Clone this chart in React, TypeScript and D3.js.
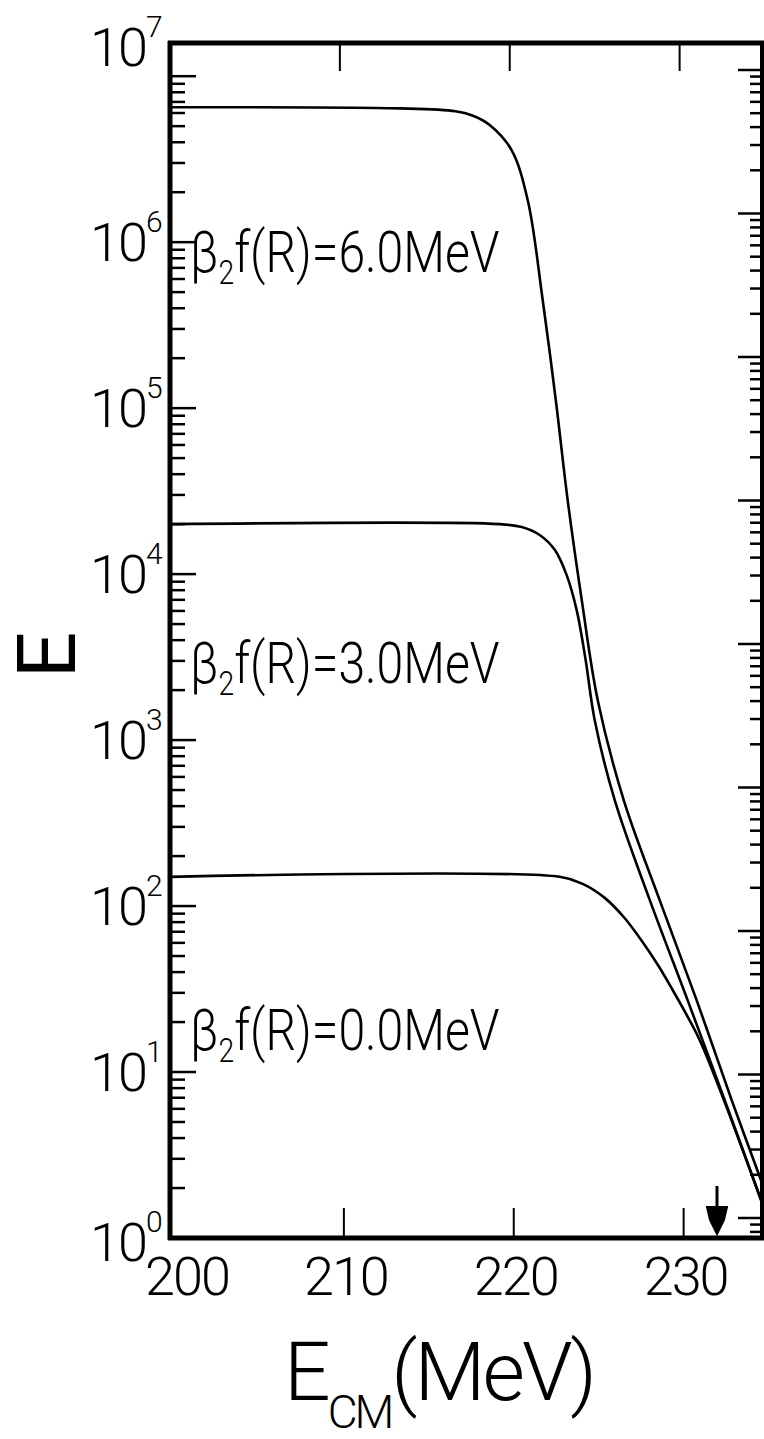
import React from "react";
import * as d3 from "d3";

// ---- data ----
const xTickValues = [200, 210, 220, 230];
const yDecades = [0, 1, 2, 3, 4, 5, 6, 7];

const curve6E = [200, 213.5, 216.8, 217.8, 218.8, 220.1, 221.06, 221.94, 222.71, 223.41, 224.24, 225.18, 226.71, 228.82, 231.0, 233.06, 234.94];
const curve6V = [6.5e6, 6.4e6, 6.15e6, 5.8e6, 5.1e6, 3.6e6, 1.79e6, 4.48e5, 1.12e5, 2.79e4, 6.97e3, 1.74e3, 435, 109, 27.1, 6.8, 2.03];

const curve3E = [200, 219.4, 220.71, 221.76, 222.65, 223.35, 223.94, 224.47, 225.0, 226.18, 228.24, 230.47, 232.65, 234.94];
const curve3V = [2.0e4, 2.0e4, 1.92e4, 1.72e4, 1.4e4, 9.86e3, 6.07e3, 3.03e3, 1.32e3, 435, 109, 27.1, 6.78, 1.54];

const curve0E = [200, 222.94, 224.29, 225.59, 226.76, 227.82, 228.76, 229.59, 230.35, 231.18, 232.65, 234.94];
const curve0V = [150, 150, 136, 112, 84.7, 60.7, 43.5, 31.2, 22.7, 15.6, 6.6, 1.54];

const curveLabels = ["6.0", "3.0", "0.0"];
const labelValues = [6.6e5, 2.2e3, 13.5];
const arrowE = 232.2;

// ---- layout ----
const W = 764, H = 1439;
const left = 170, right = 762, top = 43, bottom = 1238;

export default function App() {
  const x = d3.scaleLinear().domain([200, 234.85]).range([left, right]);
  const y = d3.scaleLog().domain([1, Math.pow(10, 7.2)]).range([bottom, top]);
  const yR = d3.scaleLog().domain([1, 1e8]).range([1218, 70]);

  const line = d3
    .line<[number, number]>()
    .x((d) => x(d[0]))
    .y((d) => y(d[1]))
    .curve(d3.curveCatmullRom.alpha(0.5));

  const curves = [
    d3.zip(curve6E, curve6V) as [number, number][],
    d3.zip(curve3E, curve3V) as [number, number][],
    d3.zip(curve0E, curve0V) as [number, number][],
  ];

  const leftTicks: { v: number; major: boolean }[] = [];
  for (let k = 0; k <= 7; k++) {
    for (let m = 1; m <= 9; m++) {
      const v = m * Math.pow(10, k);
      if (v <= Math.pow(10, 7.2)) leftTicks.push({ v, major: m === 1 });
    }
  }
  const rightTicks: { v: number; major: boolean }[] = [];
  for (let k = -1; k <= 8; k++) {
    for (let m = 1; m <= 9; m++) {
      const v = m * Math.pow(10, k);
      const py = yR(v);
      if (py >= top + 3 && py <= bottom - 3) rightTicks.push({ v, major: m === 1 });
    }
  }

  const font = "Roboto, 'DejaVu Sans', sans-serif";
  const ax = 5;

  return (
    <svg width={W} height={H} style={{ position: "absolute", left: 0, top: 0, background: "#fff" }}>
      <rect x={0} y={0} width={W} height={H} fill="#fff" />
      {curves.map((c, i) => (
        <path key={i} d={line(c) || ""} fill="none" stroke="#000" strokeWidth={2.6} />
      ))}
      {/* frame */}
      <line x1={left} x2={left} y1={top - 2} y2={bottom + 2} stroke="#000" strokeWidth={ax} />
      <line x1={left - 2} x2={W} y1={top} y2={top} stroke="#000" strokeWidth={ax} />
      <line x1={left - 2} x2={W} y1={bottom} y2={bottom} stroke="#000" strokeWidth={ax} />
      <line x1={right} x2={right} y1={top} y2={bottom} stroke="#000" strokeWidth={4} />
      {leftTicks.map((t, i) => (
        <line key={"l" + i} x1={left} x2={left + (t.major ? 26 : 15)} y1={y(t.v)} y2={y(t.v)} stroke="#000" strokeWidth={2.5} />
      ))}
      {rightTicks.map((t, i) => (
        <line key={"r" + i} x1={right} x2={right - (t.major ? 24 : 12)} y1={yR(t.v)} y2={yR(t.v)} stroke="#000" strokeWidth={2.5} />
      ))}
      {xTickValues.slice(1).map((v) => (
        <g key={"xt" + v}>
          <line x1={x(v)} x2={x(v)} y1={top} y2={top + 28} stroke="#000" strokeWidth={2} />
          <line x1={x(v) + 4} x2={x(v) + 4} y1={bottom} y2={bottom - 30} stroke="#000" strokeWidth={2} />
        </g>
      ))}
      {xTickValues.map((v, i) => (
        <text key={"xl" + v} x={x(v) + (i === 0 ? 17 : 6)} y={1295} textAnchor="middle" fontFamily={font} fontWeight={300} fontSize={54} letterSpacing={-2}>
          {v}
        </text>
      ))}
      {yDecades.map((k) => {
        const cy = k === 7 ? y(Math.pow(10, 7.2)) + 4 : y(Math.pow(10, k)) + (k === 0 ? 4 : 0);
        return (
          <g key={"yl" + k}>
            <text x={146} y={cy + 19} textAnchor="end" fontFamily={font} fontWeight={300} fontSize={54} letterSpacing={-2}>
              10
            </text>
            <text x={146} y={cy - 10} fontFamily={font} fontWeight={300} fontSize={30}>
              {k}
            </text>
          </g>
        );
      })}
      {curveLabels.map((s, i) => {
        const ly = y(labelValues[i]);
        return (
          <text key={"cl" + i} transform={`translate(190,${ly}) scale(0.83,1)`} fontFamily={font} fontWeight={300} fontSize={58}>
            β<tspan fontSize={34} dy={12}>2</tspan>
            <tspan dy={-12}>f(R)={s}MeV</tspan>
          </text>
        );
      })}
      <g transform={`translate(${x(arrowE)},${bottom})`}>
        <line x1={0} x2={0} y1={-52} y2={-28} stroke="#000" strokeWidth={3} />
        <path d="M-10,-31 L10,-31 L7,-18 L0,-4 L-7,-18 Z" fill="#000" stroke="#000" strokeWidth={2} />
      </g>
      <text transform="translate(75,655) rotate(-90)" textAnchor="middle" fontFamily={font} fontWeight={400} fontSize={82}>
        E
      </text>
      <text x={284} y={1400} fontFamily={font} fontWeight={300} fontSize={82} letterSpacing={-3}>
        E<tspan fontSize={46} dy={28}>CM</tspan>
        <tspan dy={-28}>(MeV)</tspan>
      </text>
    </svg>
  );
}
